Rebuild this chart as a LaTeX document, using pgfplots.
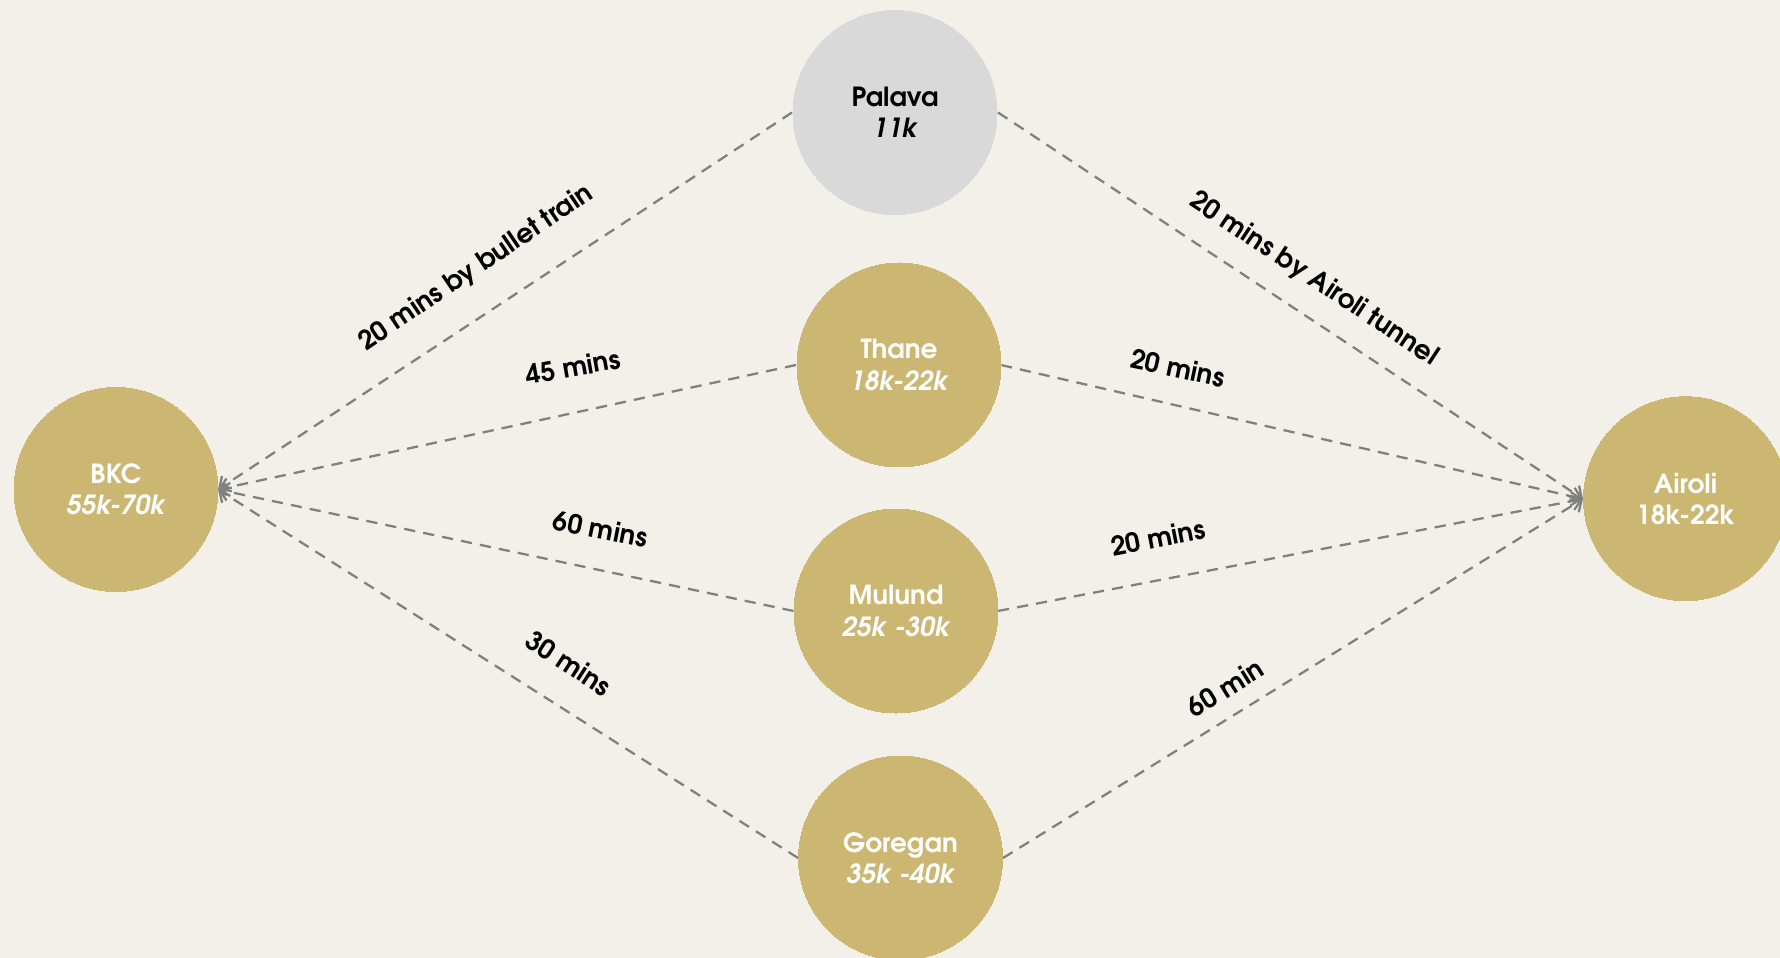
\documentclass[border=0pt]{standalone}
\usepackage{fontspec}
\setmainfont{TeX Gyre Adventor}
\usepackage{pgfplots}
\pgfplotsset{compat=1.18}
\usetikzlibrary{arrows.meta}
\definecolor{bgc}{HTML}{F2F0E8}
\definecolor{gold}{HTML}{CBB672}
\definecolor{pal}{HTML}{D9D9D9}
\definecolor{ln}{HTML}{808080}
\begin{document}
\begin{tikzpicture}[every node/.append style={font=\fontsize{7.5}{8.9}\selectfont\bfseries}]
\useasboundingbox (0,0) rectangle (17.8cm,9.58cm);
\begin{axis}[at={(0,0)}, anchor=south west, scale only axis,
  width=17.8cm, height=9.58cm, xmin=0, xmax=1780, ymin=0, ymax=958,
  y dir=reverse, hide axis, clip marker paths=true]
\addplot[fill=bgc, draw=none] coordinates {(0,0) (1780,0) (1780,958) (0,958)} -- cycle;
% connections into BKC
\pgfplotsset{conn/.style={ln, line width=0.65pt, dash pattern=on 3.2pt off 2.3pt, -{Straight Barb[length=0.9mm,width=1.8mm]}}}
\addplot[conn] coordinates {(792,112.5) (218,489.5)};
\addplot[conn] coordinates {(796,365) (218,489.5)};
\addplot[conn] coordinates {(793.5,611) (218,489.5)};
\addplot[conn] coordinates {(798,858) (218,489.5)};
% connections into Airoli
\addplot[conn] coordinates {(998,112.5) (1583,499)};
\addplot[conn] coordinates {(1001,365) (1583,499)};
\addplot[conn] coordinates {(998,611) (1583,499)};
\addplot[conn] coordinates {(1003,858) (1583,499)};
% circles
\addplot[gold, only marks, mark=*, mark size=10.2mm, mark options={fill=gold, draw=gold, line width=0pt}]
  coordinates {(116,489.5) (899,365) (896,611) (900.5,858) (1685.5,498.7)};
\addplot[pal, only marks, mark=*, mark size=10.2mm, mark options={fill=pal, draw=pal, line width=0pt}]
  coordinates {(895,112.5)};
% circle labels
\node[align=center, text=black] at (axis cs:895,112.5) {Palava\\{\itshape 11k}};
\node[align=center, text=white] at (axis cs:116,489.5) {BKC\\{\itshape 55k-70k}};
\node[align=center, text=white] at (axis cs:899,365) {Thane\\{\itshape 18k-22k}};
\node[align=center, text=white] at (axis cs:896,611) {Mulund\\{\itshape 25k -30k}};
\node[align=center, text=white] at (axis cs:900.5,858) {Goregan\\{\itshape 35k -40k}};
\node[align=center, text=white] at (axis cs:1685.5,498.7) {Airoli\\18k-22k};
% edge labels
\node[rotate=34] at (axis cs:476,268) {20 mins by bullet train};
\node[rotate=10] at (axis cs:573,366.7) {45 mins};
\node[rotate=-11] at (axis cs:600.5,529) {60 mins};
\node[rotate=-33] at (axis cs:568.7,663) {30 mins};
\node[rotate=-33.5] at (axis cs:1314,279) {20 mins by Airoli tunnel};
\node[rotate=-12] at (axis cs:1177.8,367.8) {20 mins};
\node[rotate=11] at (axis cs:1158,537.5) {20 mins};
\node[rotate=32] at (axis cs:1225,688) {60 min};
\end{axis}
\end{tikzpicture}
\end{document}
